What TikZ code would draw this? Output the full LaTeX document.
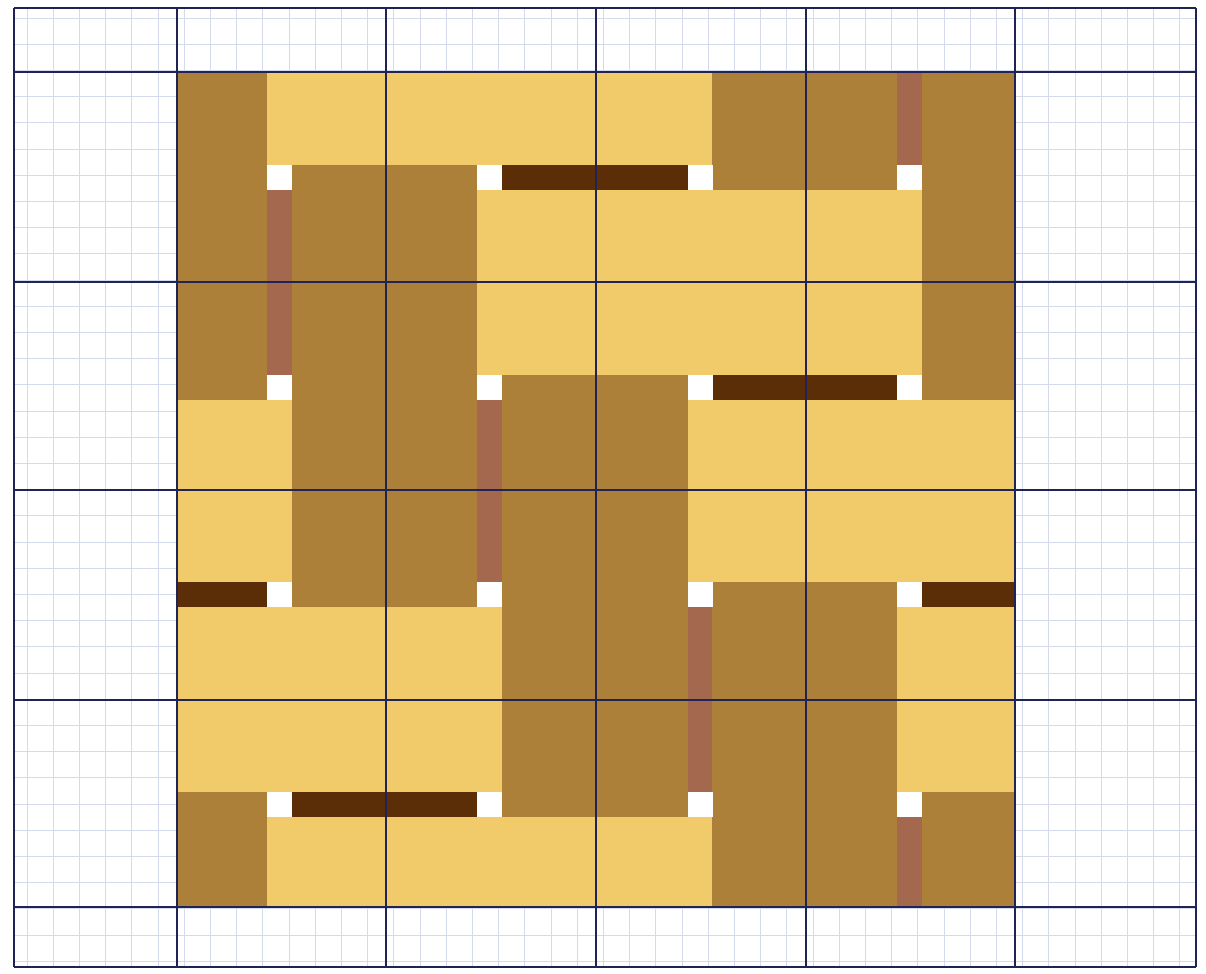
\documentclass[tikz,border=0pt]{standalone}
\usepackage{xcolor}
\definecolor{lightboard}{RGB}{241,203,106}
\definecolor{brownboard}{RGB}{172,128,56}
\definecolor{darkshadow}{RGB}{92,46,8}
\definecolor{redshadow}{RGB}{163,104,78}
\definecolor{minorgrid}{RGB}{212,218,236}
\definecolor{majorgrid}{RGB}{32,36,84}
\tikzset{
  lightfill/.style={fill=lightboard},
  brownfill/.style={fill=brownboard},
  darkfill/.style={fill=darkshadow},
  redfill/.style={fill=redshadow},
  whitefill/.style={fill=white},
  minorline/.style={draw=minorgrid, line width=0.4pt},
  majorline/.style={draw=majorgrid, line width=1.1pt},
}
\begin{document}
\begin{tikzpicture}[x=0.02cm,y=-0.02cm]
\useasboundingbox (0,0) rectangle (1206,973);
\fill[white] (0,0) rectangle (1206,973);
% minor grid
\foreach \i in {0,...,45} {
  \pgfmathsetmacro{\xx}{14+13+26.2*\i}
  \ifdim\xx pt<1196pt \draw[minorline] (\xx,8) -- (\xx,967); \fi
}
\foreach \j in {0,...,37} {
  \pgfmathsetmacro{\yy}{8+10+26.2*\j}
  \ifdim\yy pt<967pt \draw[minorline] (14,\yy) -- (1196,\yy); \fi
}
% pattern: brown base
\fill[brownfill] (177,72) rectangle (1015,907);
% light horizontal boards
\foreach \a/\b/\c/\d in {267/72/712/165, 477/190/922/375, 688/400/1015/582,
  177/607/502/792, 267/817/712/907, 177/400/292/582, 897/607/1015/792}
  \fill[lightfill] (\a,\b) rectangle (\c,\d);
% dark shadows
\foreach \a/\b/\c/\d in {502/165/688/190, 712/375/897/400, 177/582/267/607,
  922/582/1015/607, 292/792/477/817}
  \fill[darkfill] (\a,\b) rectangle (\c,\d);
% reddish shadows
\foreach \a/\b/\c/\d in {267/190/292/375, 477/400/502/582, 688/607/712/792,
  897/72/922/165, 897/817/922/907}
  \fill[redfill] (\a,\b) rectangle (\c,\d);
% white squares
\foreach \x in {267,477,688,897}
  \foreach \y in {165,375,582,792}
    \fill[whitefill] (\x,\y) rectangle ++(25,25);
% major grid
\foreach \x in {14,177,386,596,806,1015,1196}
  \draw[majorline] (\x,8) -- (\x,967);
\foreach \y in {8,72,282,490,700,907,967}
  \draw[majorline] (14,\y) -- (1196,\y);
\end{tikzpicture}
\end{document}
